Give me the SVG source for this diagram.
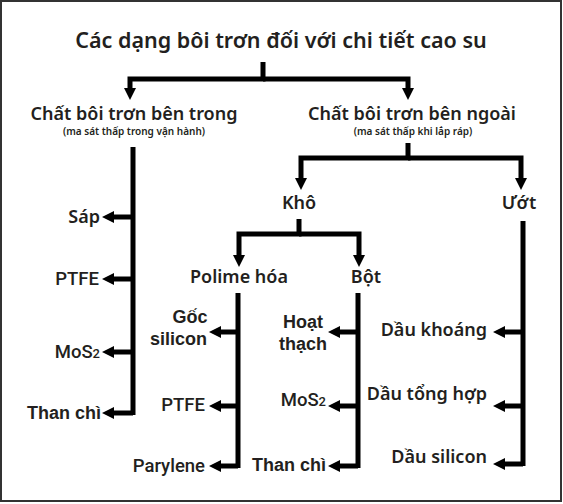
<svg xmlns="http://www.w3.org/2000/svg" width="563" height="504" viewBox="0 0 563 504">
<style>
.h{font-family:"Noto Sans","Open Sans",sans-serif;font-weight:600;fill:#231f20}
.a{font-family:Roboto,"Liberation Sans",Arial,sans-serif;font-weight:500;fill:#231f20;font-size:18.5px}
.b{font-family:"Liberation Sans",Arial,sans-serif;font-weight:700;fill:#231f20}
.c{fill:none;stroke:#000;stroke-width:5;stroke-linejoin:miter;stroke-linecap:butt}
</style>
<defs>
<marker id="ah" viewBox="0 0 12 12" refX="1" refY="6" markerWidth="12" markerHeight="12" markerUnits="userSpaceOnUse" orient="auto">
<path d="M0,0 L12,6 L0,12 z" fill="#000"/>
</marker>
</defs>
<rect x="1" y="1" width="560" height="500" fill="#fff" stroke="#333" stroke-width="2"/>
<g id="title"><text class="h" x="281" y="48" font-size="21.5" text-anchor="middle">Các dạng bôi trơn đối với chi tiết cao su</text></g>
<g id="inner"><text class="h" x="134" y="120" font-size="18" text-anchor="middle">Chất bôi trơn bên trong</text>
<text class="h" x="134" y="135" font-size="10" font-weight="700" text-anchor="middle">(ma sát thấp trong vận hành)</text></g>
<g id="outer"><text class="h" x="412" y="120" font-size="18" text-anchor="middle">Chất bôi trơn bên ngoài</text>
<text class="h" x="413" y="135" font-size="10" font-weight="700" text-anchor="middle">(ma sát thấp khi lắp ráp)</text></g>
<g id="kho"><text class="h" x="299" y="209" font-size="18" text-anchor="middle">Khô</text></g>
<g id="uot"><text class="h" x="519" y="209" font-size="18" text-anchor="middle">Ướt</text></g>
<g id="polime"><text class="h" x="239" y="283" font-size="18" text-anchor="middle">Polime hóa</text></g>
<g id="bot"><text class="h" x="366" y="283" font-size="18" text-anchor="middle">Bột</text></g>
<g id="sap"><text class="h" x="100" y="223" font-size="18" text-anchor="end">Sáp</text></g>
<g id="ptfe1"><text class="a" x="99" y="285" text-anchor="end">PTFE</text></g>
<g id="mos1"><text class="a" x="100" y="358" text-anchor="end">MoS<tspan font-size="13">2</tspan></text></g>
<g id="than1"><text class="b" x="101" y="419" font-size="18" text-anchor="end">Than chì</text></g>
<g id="goc"><text class="b" x="190" y="323" font-size="18" text-anchor="middle">Gốc</text>
<text class="b" x="207" y="345" font-size="18" text-anchor="end">silicon</text></g>
<g id="ptfe2"><text class="a" x="205" y="411" text-anchor="end">PTFE</text></g>
<g id="parylene"><text class="a" x="205" y="472" text-anchor="end">Parylene</text></g>
<g id="hoat"><text class="b" x="303" y="328" font-size="18" text-anchor="middle">Hoạt</text>
<text class="b" x="303" y="350" font-size="18" text-anchor="middle">thạch</text></g>
<g id="mos2"><text class="a" x="326" y="406" text-anchor="end">MoS<tspan font-size="13">2</tspan></text></g>
<g id="than2"><text class="b" x="326" y="471" font-size="18" text-anchor="end">Than chì</text></g>
<g id="daukhoang"><text class="h" x="487" y="336" font-size="18" text-anchor="end">Dầu khoáng</text></g>
<g id="dautong"><text class="h" x="487" y="400" font-size="18" text-anchor="end">Dầu tổng hợp</text></g>
<g id="dausil"><text class="h" x="487" y="463" font-size="18" text-anchor="end">Dầu silicon</text></g>
<g id="connectors">
<path class="c" d="M263,62 V79 H130 V89" marker-end="url(#ah)"/>
<path class="c" d="M263,79 H408 V89" marker-end="url(#ah)"/>
<path class="c" d="M408,143 V158 H301 V179" marker-end="url(#ah)"/>
<path class="c" d="M408,158 H521 V179" marker-end="url(#ah)"/>
<path class="c" d="M299,219 V234 H239 V256" marker-end="url(#ah)"/>
<path class="c" d="M299,234 H359 V256" marker-end="url(#ah)"/>
<path class="c" d="M133,147 V415"/>
<path class="c" d="M133,217 H113" marker-end="url(#ah)"/>
<path class="c" d="M133,279 H113" marker-end="url(#ah)"/>
<path class="c" d="M133,352 H113" marker-end="url(#ah)"/>
<path class="c" d="M133,413 H113" marker-end="url(#ah)"/>
<path class="c" d="M238,293 V468"/>
<path class="c" d="M238,332 H220" marker-end="url(#ah)"/>
<path class="c" d="M238,406 H220" marker-end="url(#ah)"/>
<path class="c" d="M238,466 H220" marker-end="url(#ah)"/>
<path class="c" d="M358,293 V468"/>
<path class="c" d="M358,332 H339" marker-end="url(#ah)"/>
<path class="c" d="M358,406 H339" marker-end="url(#ah)"/>
<path class="c" d="M358,466 H339" marker-end="url(#ah)"/>
<path class="c" d="M523,221 V466"/>
<path class="c" d="M523,332 H504" marker-end="url(#ah)"/>
<path class="c" d="M523,406 H504" marker-end="url(#ah)"/>
<path class="c" d="M523,464 H504" marker-end="url(#ah)"/>
</g>
</svg>
